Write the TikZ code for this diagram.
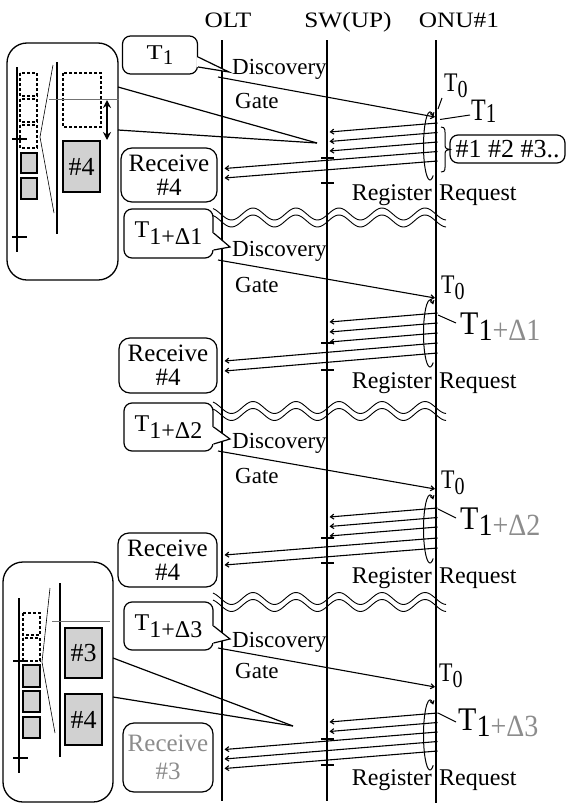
\documentclass[tikz,border=0pt]{standalone}
\usepackage{fontspec}
\setmainfont{Liberation Serif}
\usetikzlibrary{arrows.meta,calc}
\newcommand\fsz[1]{\fontsize{#1}{#1}\selectfont}
\newcommand\lowr[2]{\raisebox{-#1}{#2}}
\newcommand\tzero{\scalebox{1}[1.22]{\fsz{22}T\lowr{5pt}{\fsz{20}0}}}
\begin{document}
\begin{tikzpicture}[x=1pt,y=-1pt,
  life/.style={line width=1.4pt},
  msg/.style={line width=1.1pt,-{Straight Barb[length=3.5pt,width=5pt]}},
  swtick/.style={line width=1.3pt},
  hdr/.style={inner sep=0pt,anchor=base,font=\fsz{22}},
  txt/.style={inner sep=0pt,anchor=base west,font=\fsz{23}},
  txtE/.style={inner sep=0pt,anchor=base east,font=\fsz{24}},
  txtW/.style={inner sep=0pt,anchor=base west,font=\fsz{24}},
  callbox/.style={draw,line width=1.2pt,rounded corners=8pt,inner sep=0pt},
  recbox/.style={draw,line width=1.2pt,rounded corners=11pt,inner sep=0pt,align=center,font=\fontsize{25}{24}\selectfont},
  zoombox/.style={draw,line width=1.3pt,rounded corners=20pt},
  dsq/.style={draw,line width=1.2pt,dash pattern=on 3pt off 2pt},
  gsq/.style={draw,line width=1.2pt,fill=black!18},
  thinl/.style={line width=0.6pt},
  greyl/.style={line width=0.8pt,draw=black!55},
  cone/.style={line width=1.2pt},
  wave/.style={line width=0.9pt},
  loopa/.style={line width=1pt,-{Straight Barb[length=3pt,width=4pt]}},
  tl/.style={line width=1pt}
]
\useasboundingbox (0,0) rectangle (566,806);

% headers
\node[hdr] (hOLT) at (228,27) {\scalebox{1.15}[1]{OLT}};
\node[hdr] (hSW) at (348,27) {\scalebox{1.15}[1]{SW(UP)}};
\node[hdr] (hONU) at (459,27) {\scalebox{1.15}[1]{ONU\#1}};

% lifelines
\coordinate (olt) at (222,40); \coordinate (oltB) at (222,801);
\coordinate (sw) at (327,40);  \coordinate (swB) at (327,801);
\coordinate (onu) at (436,40); \coordinate (onuB) at (436,803);
\draw[life] (olt) -- (oltB);
\draw[life] (sw) -- (swB);
\draw[life] (onu) -- (onuB);

% message end points (x only)
\coordinate (oltout) at (218,0);
\coordinate (oltin) at (224.5,0);
\coordinate (swin) at (329.5,0);
\coordinate (onuin) at (435,0);
\coordinate (onuout) at (437.5,0);

% wavy break lines
\foreach \yc in {214,407.5,598.5}{
  \draw[wave] plot[domain=213:446,samples=120,smooth] (\x,{\yc-6*cos(8.3721*(\x-296))});
  \draw[wave] plot[domain=213:446,samples=120,smooth] (\x,{\yc+7-6*cos(8.3721*(\x-296))});
}

%================ SECTION 1 ================
\node[callbox,minimum width=75pt,minimum height=38pt] (c1) at (160,55) {\scalebox{1.25}[1]{\fsz{21}T}\lowr{5pt}{\fsz{21}1}};
\fill[white] (196.6,57) -- (229,72) -- (196.6,67) -- cycle;
\draw[line width=1.2pt,line join=miter] (c1.east |- 0,57) -- (229,72) -- (c1.east |- 0,67);
\node[txt] (d1) at (232,74) {Discovery};
\node[txt] (g1) at (235,108) {Gate};
\draw[msg] (oltout |- 0,77) -- (onuin |- 0,117);
\node[inner sep=0pt,anchor=base west] (t01) at (444,91) {\tzero};
\node[inner sep=0pt,anchor=base west] (t11) at (471,120) {\scalebox{1}[1.3]{\fsz{24}T\lowr{2pt}{\fsz{21}1}}};
\draw[tl] (442,98) -- (438,109);
\draw[tl] (440,119.5) -- (470,115);
\draw[loopa] (430,146) ++(60:6.5 and 34) arc[start angle=60,end angle=300,x radius=6.5,y radius=34];
\draw[msg] (onuout |- 0,123) -- (swin |- 0,132);
\draw[msg] (onuout |- 0,132.5) -- (swin |- 0,141.5);
\draw[msg] (onuout |- 0,142) -- (swin |- 0,151);
\draw[msg] (onuout |- 0,151.5) -- (oltin |- 0,168.5);
\draw[msg] (onuout |- 0,161) -- (oltin |- 0,178);
\draw[swtick] (sw |- 0,158) ++(-6,0) -- ++(13,0);
\draw[swtick] (sw |- 0,183) ++(-6,0) -- ++(13,0);
\draw[line width=1pt] (441,127) .. controls (446,127) and (445,131) .. (445,139) -- (445,145) .. controls (445,148.5) and (447,149.5) .. (450,149.5) .. controls (447,149.5) and (445,150.5) .. (445,154) -- (445,161) .. controls (445,169) and (446,172) .. (441,172);
\node[callbox,minimum width=115pt,minimum height=28pt,font=\fsz{26}] (ids) at (507.5,149) {\#1 \#2 \#3..};
\node[txtE] (r1a) at (432,200) {Register};
\node[txtW] (r1b) at (439,200) {Request};
\node[recbox,minimum width=96pt,minimum height=54pt] (rc1) at (169,175) {Receive\\\#4};

% zoom box 1
\draw[zoombox] (7,43) rectangle (118,280);
\coordinate (z1L) at (17,67); \coordinate (z1Lb) at (17,252);
\draw[life] (z1L) -- (z1Lb);
\draw[life] (12,139) -- (27,139);
\draw[life] (12,237) -- (27,237);
\draw[dsq] (20,73) rectangle (37,96);
\draw[dsq] (20,99) rectangle (37,122);
\draw[dsq] (20,125) rectangle (37,148);
\draw[gsq] (21,153) rectangle (37,173);
\draw[gsq] (21,178) rectangle (37,199);
\draw[life] (57,62) -- (57,234);
\draw[thinl] (53,65) -- (40,137) -- (54,213);
\draw[dsq] (63,73) rectangle (101,127);
\node[gsq,minimum width=37pt,minimum height=51pt,inner sep=0pt,font=\fsz{26}] (b4a) at (81.5,166.5) {\#4};
\draw[line width=1.4pt,{Stealth[length=8pt,width=8pt]}-{Stealth[length=8pt,width=8pt]}] (107,100) -- (107,140);
\draw[greyl] (49,99) -- (119,99);
\coordinate (k1) at (317,143);
\draw[cone] (118,87) -- (k1);
\draw[cone] (118,130) -- (k1);

%================ SECTION 2 ================
\node[callbox,minimum width=89pt,minimum height=49pt] (c2) at (168.5,233.5) {\fsz{24}T\lowr{7pt}{1+Δ1}};
\fill[white] (212.2,233) -- (230,247) -- (212.2,250) -- cycle;
\draw[line width=1.2pt] (c2.east |- 0,233) -- (230,247) -- (c2.east |- 0,250);
\node[txt] (d2) at (232,256) {Discovery};
\node[txt] (g2) at (235,292) {Gate};
\draw[msg] (oltout |- 0,260) -- (onuin |- 0,298);
\node[inner sep=0pt,anchor=base west] (t02) at (441,293) {\tzero};
\node[inner sep=0pt,anchor=base west] (t12) at (460,334) {\scalebox{1}[1.1]{\fsz{30}T\lowr{6pt}{\fsz{28}1\textcolor{black!45}{+Δ1}}}};
\draw[tl] (438,315) -- (456,323);
\draw[loopa] (430,333.5) ++(60:6.5 and 33.5) arc[start angle=60,end angle=300,x radius=6.5,y radius=33.5];
\draw[msg] (onuout |- 0,313) -- (swin |- 0,322);
\draw[msg] (onuout |- 0,323) -- (swin |- 0,332);
\draw[msg] (onuout |- 0,333) -- (swin |- 0,342);
\draw[msg] (onuout |- 0,343) -- (oltin |- 0,361);
\draw[msg] (onuout |- 0,353) -- (oltin |- 0,371);
\draw[swtick] (sw |- 0,343) ++(-6,0) -- ++(13,0);
\draw[swtick] (sw |- 0,370) ++(-6,0) -- ++(13,0);
\node[txtE] (r2a) at (432,388) {Register};
\node[txtW] (r2b) at (439,388) {Request};
\node[recbox,minimum width=98pt,minimum height=55pt] (rc2) at (168,365.5) {Receive\\\#4};

%================ SECTION 3 ================
\node[callbox,minimum width=89pt,minimum height=48pt] (c3) at (168.5,427) {\fsz{24}T\lowr{7pt}{1+Δ2}};
\fill[white] (212.2,427) -- (230,439) -- (212.2,444) -- cycle;
\draw[line width=1.2pt] (c3.east |- 0,427) -- (230,439) -- (c3.east |- 0,444);
\node[txt] (d3) at (232,448) {Discovery};
\node[txt] (g3) at (235,483) {Gate};
\draw[msg] (oltout |- 0,451) -- (onuin |- 0,489);
\node[inner sep=0pt,anchor=base west] (t03) at (441,488) {\tzero};
\node[inner sep=0pt,anchor=base west] (t13) at (460,529) {\scalebox{1}[1.1]{\fsz{30}T\lowr{6pt}{\fsz{28}1\textcolor{black!45}{+Δ2}}}};
\draw[tl] (438,509) -- (456,518);
\draw[loopa] (430,529) ++(60:6.5 and 34) arc[start angle=60,end angle=300,x radius=6.5,y radius=34];
\draw[msg] (onuout |- 0,508) -- (swin |- 0,517);
\draw[msg] (onuout |- 0,517.5) -- (swin |- 0,526.5);
\draw[msg] (onuout |- 0,527) -- (swin |- 0,536);
\draw[msg] (onuout |- 0,538) -- (oltin |- 0,555);
\draw[msg] (onuout |- 0,548) -- (oltin |- 0,565);
\draw[swtick] (sw |- 0,538) ++(-6,0) -- ++(13,0);
\draw[swtick] (sw |- 0,563) ++(-6,0) -- ++(13,0);
\node[txtE] (r3a) at (432,583) {Register};
\node[txtW] (r3b) at (439,583) {Request};
\node[recbox,minimum width=99pt,minimum height=54pt] (rc3) at (167.5,560) {Receive\\\#4};

%================ SECTION 4 ================
\node[callbox,minimum width=89pt,minimum height=48pt] (c4) at (168.5,626) {\fsz{24}T\lowr{7pt}{1+Δ3}};
\fill[white] (212.2,626) -- (230,639) -- (212.2,643) -- cycle;
\draw[line width=1.2pt] (c4.east |- 0,626) -- (230,639) -- (c4.east |- 0,643);
\node[txt] (d4) at (232,647) {Discovery};
\node[txt] (g4) at (235,678) {Gate};
\draw[msg] (oltout |- 0,648) -- (onuin |- 0,687);
\node[inner sep=0pt,anchor=base west] (t04) at (439,681) {\tzero};
\node[inner sep=0pt,anchor=base west] (t14) at (458,730) {\scalebox{1}[1.1]{\fsz{30}T\lowr{6pt}{\fsz{28}1\textcolor{black!45}{+Δ3}}}};
\draw[tl] (438,713) -- (456,722);
\draw[loopa] (430,735) ++(60:6.5 and 35) arc[start angle=60,end angle=300,x radius=6.5,y radius=35];
\draw[msg] (onuout |- 0,713) -- (swin |- 0,722);
\draw[msg] (onuout |- 0,722.5) -- (swin |- 0,731.5);
\draw[msg] (onuout |- 0,732) -- (oltin |- 0,749.5);
\draw[msg] (onuout |- 0,741.5) -- (oltin |- 0,759);
\draw[msg] (onuout |- 0,751) -- (oltin |- 0,768.5);
\draw[swtick] (sw |- 0,739) ++(-6,0) -- ++(13,0);
\draw[swtick] (sw |- 0,765) ++(-6,0) -- ++(13,0);
\node[txtE] (r4a) at (432,785) {Register};
\node[txtW] (r4b) at (439,785) {Request};
\node[recbox,minimum width=90pt,minimum height=69pt,text=black!45,font=\fontsize{25}{28}\selectfont] (rc4) at (168,757.5) {Receive\\\#3};

% zoom box 2
\draw[zoombox] (3,562) rectangle (113,802);
\draw[life] (19,598) -- (19,773);
\draw[life] (13,661) -- (28,661);
\draw[life] (13,758) -- (28,758);
\draw[dsq] (23,613) rectangle (40,635);
\draw[dsq] (23,638) rectangle (40,661);
\draw[gsq] (23,665) rectangle (40,687);
\draw[gsq] (23,691) rectangle (40,712);
\draw[gsq] (23,717) rectangle (40,738);
\draw[life] (60,583) -- (60,757);
\draw[thinl] (50,588) -- (42,662) -- (55,733);
\draw[greyl] (52,621) -- (110,621);
\node[gsq,minimum width=37pt,minimum height=50pt,inner sep=0pt,font=\fsz{26}] (b3) at (83.5,653) {\#3};
\node[gsq,minimum width=37pt,minimum height=51pt,inner sep=0pt,font=\fsz{26}] (b4b) at (83.5,719.5) {\#4};
\coordinate (k2) at (293,726);
\draw[cone] (113,658) -- (k2);
\draw[cone] (113,697) -- (k2);
\end{tikzpicture}
\end{document}
